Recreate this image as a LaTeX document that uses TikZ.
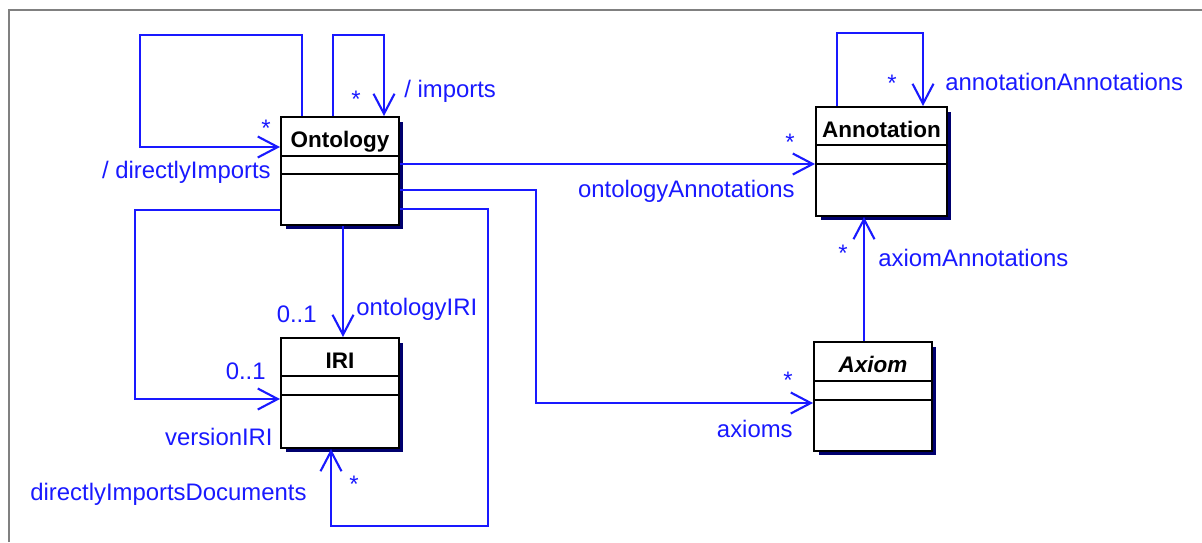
\documentclass[tikz,border=0pt]{standalone}
\usepackage{fontspec}
\setmainfont{Liberation Sans}
\usetikzlibrary{arrows.meta,shadows}
\definecolor{umlblue}{RGB}{25,25,255}
\definecolor{umlnavy}{RGB}{0,0,110}
\definecolor{framegray}{RGB}{128,128,128}

\begin{document}
\begin{tikzpicture}[x=0.02cm, y=-0.02cm,
	classbox/.style={draw=black, fill=white, line width=0.04cm, inner sep=0, anchor=north west,
		drop shadow={shadow xshift=0.09cm, shadow yshift=-0.09cm, fill=umlnavy, opacity=1}},
	classname/.style={anchor=base, inner sep=0, font=\fontsize{12.8}{15}\selectfont\bfseries},
	divider/.style={line width=0.04cm},
	assoc/.style={draw=umlblue, line width=0.042cm, -{Straight Barb[length=0.4cm, width=0.42cm]}},
	role/.style={text=umlblue, inner sep=0, font=\fontsize{13.6}{16}\selectfont}]
	\useasboundingbox (0,0) rectangle (1202,542);
	\draw[framegray, line width=0.05cm] (9,542) -- (9,10) -- (1202,10);

	\node[classbox, minimum width=2.36cm, minimum height=2.16cm] (ont) at (280,116) {};
	\node[classbox, minimum width=2.36cm, minimum height=2.2cm] (iri) at (280,337) {};
	\node[classbox, minimum width=2.62cm, minimum height=2.18cm] (ann) at (815,106) {};
	\node[classbox, minimum width=2.36cm, minimum height=2.18cm] (axm) at (813,341) {};
	\node[classname] (ont-name) at ([yshift=-0.63cm]ont.north) {Ontology};
	\node[classname] (iri-name) at ([yshift=-0.63cm]iri.north) {IRI};
	\node[classname] (ann-name) at ([yshift=-0.63cm]ann.north) {Annotation};
	\node[classname] (axm-name) at ([yshift=-0.63cm]axm.north) {\itshape Axiom};
	\draw[divider] ([yshift=-0.8cm]ont.north west) -- ([yshift=-0.8cm]ont.north east);
	\draw[divider] ([yshift=-1.16cm]ont.north west) -- ([yshift=-1.16cm]ont.north east);
	\draw[divider] ([yshift=-0.78cm]iri.north west) -- ([yshift=-0.78cm]iri.north east);
	\draw[divider] ([yshift=-1.16cm]iri.north west) -- ([yshift=-1.16cm]iri.north east);
	\draw[divider] ([yshift=-0.78cm]ann.north west) -- ([yshift=-0.78cm]ann.north east);
	\draw[divider] ([yshift=-1.16cm]ann.north west) -- ([yshift=-1.16cm]ann.north east);
	\draw[divider] ([yshift=-0.8cm]axm.north west) -- ([yshift=-0.8cm]axm.north east);
	\draw[divider] ([yshift=-1.18cm]axm.north west) -- ([yshift=-1.18cm]axm.north east);

	\draw[assoc] (ont.north -| 302,0) -- (302,35) -| (140,147) -- (ont.west |- 0,147);
	\draw[assoc] (ont.north -| 333,0) -- (333,35) -| (ont.north -| 384,0);
	\draw[assoc] (ont.east |- 0,164) -- (ann.west |- 0,164);
	\draw[assoc] (ont.east |- 0,190) -- (536,190) |- (axm.west |- 0,403);
	\draw[assoc] (ont.east |- 0,209) -- (488,209) |- (331,526) -- (iri.south -| 331,0);
	\draw[assoc] (ont.west |- 0,210) -- (135,210) |- (iri.west |- 0,399);
	\draw[assoc] (ont.south -| 343,0) -- (iri.north -| 343,0);
	\draw[assoc] (axm.north -| 864,0) -- (ann.south -| 864,0);
	\draw[assoc] (ann.north -| 837,0) -- (837,33) -| (ann.north -| 923,0);

	\node[role] (dimp-mult) at (266,128) {*};
	\node[role, anchor=east] (dimp-role) at (271,172) {/ directlyImports};
	\node[role] (imp-mult) at (356,99) {*};
	\node[role, anchor=west] (imp-role) at (404,91) {/ imports};
	\node[role, anchor=east] (oiri-mult) at (317,314) {0..1};
	\node[role, anchor=west] (oiri-role) at (356,309) {ontologyIRI};
	\node[role, anchor=east] (viri-mult) at (266,371) {0..1};
	\node[role, anchor=east] (viri-role) at (273,437) {versionIRI};
	\node[role] (did-mult) at (354,484) {*};
	\node[role, anchor=west] (did-role) at (30,494) {directlyImportsDocuments};
	\node[role] (oann-mult) at (790,142) {*};
	\node[role, anchor=east] (oann-role) at (795,191) {ontologyAnnotations};
	\node[role] (aann-mult) at (892,83) {*};
	\node[role, anchor=west] (aann-role) at (945,82) {annotationAnnotations};
	\node[role] (axann-mult) at (843,253) {*};
	\node[role, anchor=west] (axann-role) at (878,258) {axiomAnnotations};
	\node[role] (ax-mult) at (788,380) {*};
	\node[role, anchor=east] (ax-role) at (793,429) {axioms};
\end{tikzpicture}
\end{document}
